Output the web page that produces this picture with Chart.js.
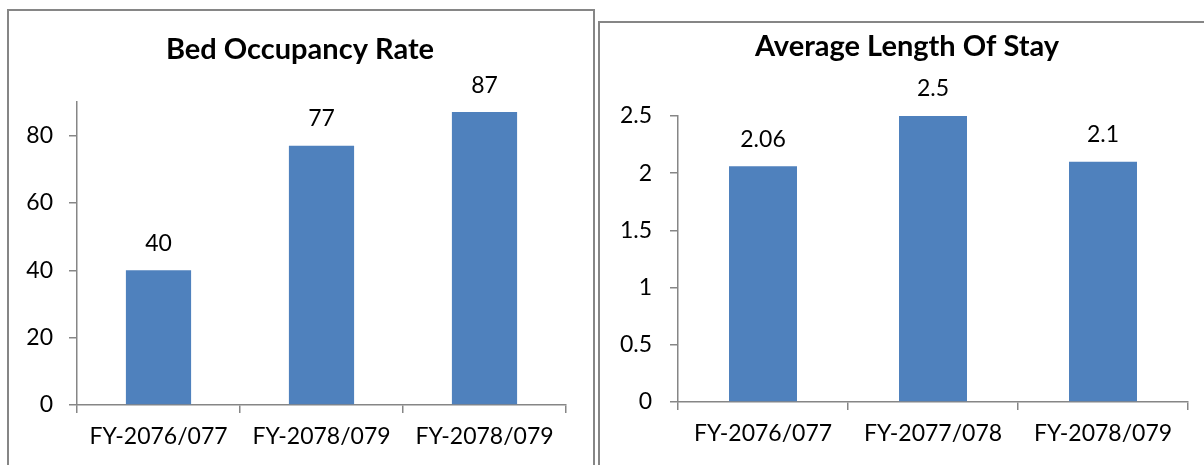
<!DOCTYPE html>
<html>
<head>
<meta charset="utf-8">
<script src="https://cdn.jsdelivr.net/npm/chart.js@4"></script>
<style>
  html, body { margin: 0; padding: 0; background: #fff; overflow: hidden; }
  body { width: 1204px; height: 465px; position: relative; }
  .caixa { position: absolute; border: 2px solid #868686; border-bottom: none; background: #fff; height: 470px; }
  #caixa-ocupacao { left: 7px; top: 9px; width: 584px; }
  #caixa-estadia { left: 598px; top: 21px; width: 620px; }
  canvas { position: absolute; left: 0; top: 0; }
</style>
</head>
<body>
<div class="caixa" id="caixa-ocupacao"><canvas id="grafico-ocupacao" width="582" height="454"></canvas></div>
<div class="caixa" id="caixa-estadia"><canvas id="grafico-estadia" width="614" height="442"></canvas></div>
<script>
const anosOcupacao = ['FY-2076/077', 'FY-2078/079', 'FY-2078/079'];
const valoresOcupacao = [40, 77, 87];
const ticksOcupacao = [0, 20, 40, 60, 80];

const anosEstadia = ['FY-2076/077', 'FY-2077/078', 'FY-2078/079'];
const valoresEstadia = [2.06, 2.5, 2.1];
const ticksEstadia = [0, 0.5, 1, 1.5, 2, 2.5];

const corBarra = '#4F81BD';
const corEixo = '#868686';
const fonte = "Lato, 'Open Sans', sans-serif";

// escreve o valor em cima de cada barra
const rotulosBarras = {
  id: 'rotulosBarras',
  afterDatasetsDraw(chart) {
    const ctx = chart.ctx;
    ctx.save();
    ctx.font = '23px ' + fonte;
    ctx.fillStyle = '#000';
    ctx.textAlign = 'center';
    ctx.textBaseline = 'middle';
    chart.getDatasetMeta(0).data.forEach((barra, i) => {
      ctx.fillText(String(chart.data.datasets[0].data[i]), barra.x, barra.y - 27);
    });
    ctx.restore();
  }
};

// titulo centrado no canvas inteiro (o do Chart.js fica deslocado pelo padding)
const tituloCentro = {
  id: 'tituloCentro',
  afterDraw(chart, args, opts) {
    const ctx = chart.ctx;
    ctx.save();
    ctx.font = 'bold 29px ' + fonte;
    ctx.fillStyle = '#000';
    ctx.textAlign = 'center';
    ctx.textBaseline = 'middle';
    ctx.fillText(opts.texto, chart.width / 2, opts.y);
    ctx.restore();
  }
};

function criarGrafico(id, titulo, anos, valores, ticks, maximo, passo, cfg) {
  return new Chart(document.getElementById(id).getContext('2d'), {
    type: 'bar',
    data: {
      labels: anos,
      datasets: [{
        data: valores,
        backgroundColor: corBarra,
        barPercentage: 0.4,
        categoryPercentage: 1
      }]
    },
    options: {
      responsive: false,
      devicePixelRatio: 1,
      animation: false,
      layout: { padding: { left: 0, right: cfg.direita, top: cfg.topo, bottom: 0 } },
      plugins: {
        legend: { display: false },
        tooltip: { enabled: false },
        title: { display: false },
        tituloCentro: { texto: titulo, y: cfg.tituloY }
      },
      scales: {
        x: {
          offset: true,
          border: { display: true, color: corEixo, width: 1.5 },
          grid: { display: true, drawOnChartArea: false, drawTicks: true, tickLength: 8, color: corEixo, lineWidth: 1.5, offset: true },
          ticks: { color: '#000', font: { family: fonte, size: 23 }, padding: 10, maxRotation: 0, autoSkip: false },
          afterFit(escala) { escala.height = cfg.alturaX; }
        },
        y: {
          min: 0,
          max: maximo,
          border: { display: true, color: corEixo, width: 1.5 },
          grid: { display: true, drawOnChartArea: false, drawTicks: true, tickLength: 8, color: corEixo, lineWidth: 1.5 },
          ticks: { color: '#000', font: { family: fonte, size: 23 }, padding: cfg.folgaY, stepSize: passo, callback: v => String(v) },
          afterBuildTicks(escala) { escala.ticks = ticks.map(v => ({ value: v })); },
          afterFit(escala) { escala.width = cfg.larguraY; }
        }
      }
    },
    plugins: [rotulosBarras, tituloCentro]
  });
}

const graficoOcupacao = criarGrafico('grafico-ocupacao', 'Bed Occupancy Rate', anosOcupacao, valoresOcupacao, ticksOcupacao, 90, 20,
  { direita: 25, topo: 91, tituloY: 39, alturaX: 60, larguraY: 68, folgaY: 16 });

const graficoEstadia = criarGrafico('grafico-estadia', 'Average Length Of Stay', anosEstadia, valoresEstadia, ticksEstadia, 2.5, 0.5,
  { direita: 26, topo: 93, tituloY: 24, alturaX: 63, larguraY: 78, folgaY: 18 });
</script>
</body>
</html>
